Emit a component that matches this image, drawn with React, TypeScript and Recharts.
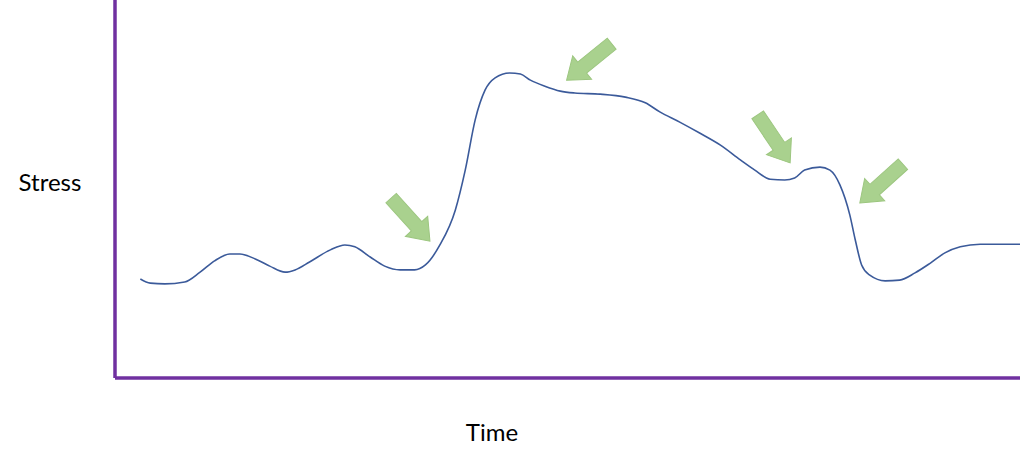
import React from 'react';
import { LineChart, Line, XAxis, YAxis, ReferenceDot, Label } from 'recharts';

// time (0-100) and stress (0-100)
const time = [
  2.8, 3.9, 5.5, 7.7, 9.4, 11.0, 12.7, 13.8, 15.5, 17.1, 18.8, 19.9, 21.5, 23.8, 25.4, 26.5,
  28.2, 29.8, 31.5, 33.1, 34.3, 35.9, 37.6, 38.7, 39.8, 40.9, 42.0, 43.6, 44.8, 45.9, 47.5,
  49.2, 50.8, 53.6, 56.4, 58.6, 60.2, 62.4, 64.6, 66.9, 69.1, 70.7, 72.4, 74.0, 75.1, 76.2,
  77.9, 79.0, 80.1, 81.2, 81.8, 82.5, 83.4, 85.1, 86.7, 88.4, 90.1, 91.7, 93.4, 95.6, 97.8, 100,
];
const stress = [
  26.2, 25.1, 24.9, 25.4, 28.0, 31.0, 32.8, 32.8, 31.5, 29.6, 28.0, 28.6, 30.7, 33.9, 35.2, 34.7,
  32.0, 29.6, 28.6, 28.6, 29.9, 35.2, 44.4, 55.0, 68.3, 76.2, 79.4, 80.7, 80.4, 78.8, 77.2,
  75.9, 75.4, 75.1, 74.3, 72.8, 70.4, 67.7, 64.8, 61.6, 57.7, 55.0, 52.6, 52.4, 52.9, 55.0,
  55.8, 55.0, 51.1, 43.1, 36.5, 29.9, 27.2, 25.7, 25.9, 27.8, 30.4, 33.1, 34.7, 35.4, 35.4, 35.4,
];

// arrow tips (time, stress) and pointing angle in degrees
const arrowTime = [34.8, 49.9, 74.6, 82.3];
const arrowStress = [36.2, 78.8, 56.9, 46.3];
const arrowAngle = [48, 141, 56, 138];

const data = time.map((t, i) => ({ t, s: stress[i] }));

const PURPLE = '#7030a0';
const FONT = "Lato, 'Open Sans', sans-serif";

const Arrow = ({ cx, cy, angle }: { cx?: number; cy?: number; angle: number }) => {
  if (cx == null || cy == null) return null;
  // pointing along +x, tip at origin
  const pts = '0,0 -20,-15 -20,-7 -58,-7 -58,7 -20,7 -20,15';
  return (
    <polygon
      points={pts}
      transform={`translate(${cx},${cy}) rotate(${angle})`}
      fill="#a9d18e"
      stroke="#9cc67f"
      strokeWidth={1}
    />
  );
};

export default function App() {
  return (
    <div style={{ position: 'absolute', left: 0, top: 0, background: '#fff' }}>
      <LineChart width={1024} height={469} data={data} margin={{ top: 0, right: 4, bottom: 0, left: 0 }}>
        <XAxis
          dataKey="t"
          type="number"
          domain={[0, 100]}
          height={91}
          tick={false}
          tickLine={false}
          axisLine={{ stroke: PURPLE, strokeWidth: 3.5 }}
        >
          <Label
            content={() => (
              <text x={492} y={441} textAnchor="middle" fontFamily={FONT} fontSize={24} fill="#000">
                Time
              </text>
            )}
          />
        </XAxis>
        <YAxis
          type="number"
          domain={[0, 100]}
          width={115}
          tick={false}
          tickLine={false}
          axisLine={{ stroke: PURPLE, strokeWidth: 3.5 }}
        >
          <Label
            content={() => (
              <text x={50} y={191} textAnchor="middle" fontFamily={FONT} fontSize={24} fill="#000">
                Stress
              </text>
            )}
          />
        </YAxis>
        <Line
          type="monotone"
          dataKey="s"
          stroke="#3b5a9a"
          strokeWidth={1.6}
          dot={false}
          isAnimationActive={false}
        />
        {arrowTime.map((t, i) => (
          <ReferenceDot
            key={i}
            x={t}
            y={arrowStress[i]}
            r={0}
            shape={(p: any) => <Arrow cx={p.cx} cy={p.cy} angle={arrowAngle[i]} />}
          />
        ))}
      </LineChart>
    </div>
  );
}
